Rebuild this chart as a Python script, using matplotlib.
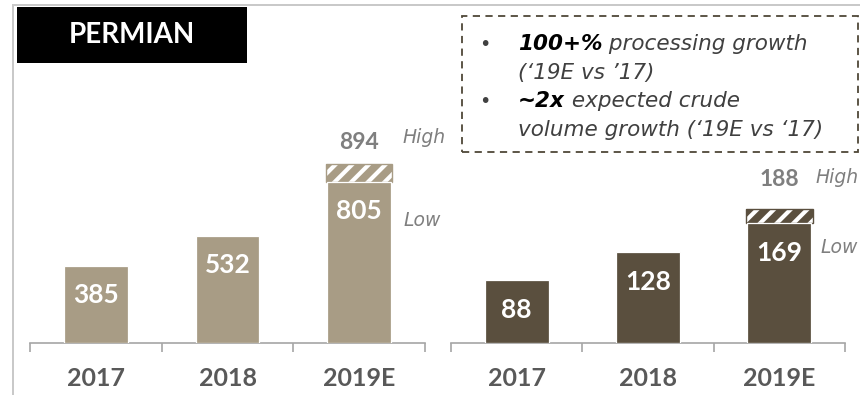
import matplotlib
matplotlib.use("Agg")
import matplotlib.pyplot as plt
from matplotlib.patches import Rectangle
from matplotlib.lines import Line2D

# ---- data -------------------------------------------------------------
years = ["2017", "2018", "2019E"]
processing_low = [385, 532, 805]      # left panel, 2019E low case
processing_high = 894                 # left panel, 2019E high case
crude_low = [88, 128, 169]            # right panel, 2019E low case
crude_high = 188                      # right panel, 2019E high case
title = "PERMIAN"
note_lines = [
    [("100+%", "bold", "#000000"), (" processing growth", "normal", "#404040")],
    [("(\u201819E vs \u201917)", "normal", "#404040")],
    [("~2x", "bold", "#000000"), (" expected crude", "normal", "#404040")],
    [("volume growth (\u201819E vs \u201817)", "normal", "#404040")],
]
bullet_rows = [0, 2]

# ---- style ------------------------------------------------------------
W, H, DPI = 860, 395, 100
LIGHT = "#A89C85"
DARK = "#5A4F3E"
AXIS_GREY = "#A6A6A6"
LABEL_GREY = "#7F7F7F"
TICK_TEXT = "#595959"
NOTE_FONT = ["DejaVu Sans"]

plt.rcParams["font.family"] = ["Lato", "DejaVu Sans"]
plt.rcParams["hatch.color"] = "white"
plt.rcParams["hatch.linewidth"] = 3.0

fig = plt.figure(figsize=(W / DPI, H / DPI), dpi=DPI)
fig.patch.set_facecolor("white")


def px_rect(x0, y0, x1, y1):
    """Pixel box (top-left origin) -> figure-fraction [l, b, w, h]."""
    return [x0 / W, 1 - y1 / H, (x1 - x0) / W, (y1 - y0) / H]


def fx(x):
    return x / W


def fy(y):
    return 1 - y / H


BAR_W = 0.486


def draw_panel(ax, low, high, color, ymax, in_off, hi_off, hi_word, lo_word):
    n = len(years)
    x = list(range(n))
    ax.set_xlim(-0.5, n - 0.5)
    ax.set_ylim(0, ymax)

    # hatched range between low and high case on the last bar
    ax.bar(n - 1, high - low[-1], bottom=low[-1], width=BAR_W + 0.02,
           color=color, hatch="//", linewidth=0, zorder=2)
    ax.bar(n - 1, high - low[-1], bottom=low[-1], width=BAR_W + 0.02,
           fill=False, edgecolor=color, linewidth=1.0, zorder=3)
    # solid bars
    ax.bar(x, low, width=BAR_W, color=color, edgecolor="white",
           linewidth=0.9, zorder=4)

    for i, v in zip(x, low):
        ax.annotate(str(v), (i, v), xytext=(0, -in_off),
                    textcoords="offset pixels", ha="center", va="center",
                    color="white", fontsize=19, fontweight="bold", zorder=5)

    ax.annotate(str(high), (n - 1, high), xytext=(0, hi_off),
                textcoords="offset pixels", ha="center", va="center",
                color=LABEL_GREY, fontsize=16.5, fontweight="bold")
    ax.annotate("High", (n - 1, high), xytext=hi_word,
                textcoords="offset pixels", ha="left", va="center",
                color=LABEL_GREY, fontsize=13.5, fontstyle="italic",
                family=NOTE_FONT)
    ax.annotate("Low", (n - 1, low[-1]), xytext=lo_word,
                textcoords="offset pixels", ha="left", va="center",
                color=LABEL_GREY, fontsize=13.5, fontstyle="italic",
                family=NOTE_FONT)

    for side in ("top", "left", "right"):
        ax.spines[side].set_visible(False)
    ax.spines["bottom"].set_color(AXIS_GREY)
    ax.spines["bottom"].set_linewidth(1.2)
    ax.patch.set_alpha(0)
    ax.set_yticks([])
    ax.set_xticks(x)
    ax.set_xticklabels(years)
    ax.set_xticks([i - 0.5 for i in range(n + 1)], minor=True)
    ax.tick_params(axis="x", which="major", length=0, pad=17,
                   labelsize=18, labelcolor=TICK_TEXT)
    for lbl in ax.get_xticklabels():
        lbl.set_fontweight("bold")
    ax.tick_params(axis="x", which="minor", length=6.5, width=1.2,
                   color=AXIS_GREY, direction="out")


# left panel: processing volumes
ax1 = fig.add_axes(px_rect(30, 5, 425, 343))
draw_panel(ax1, processing_low, processing_high, LIGHT, 338 / 0.2005,
           in_off=29, hi_off=21, hi_word=(43, 26), lo_word=(44, -39))

# right panel: crude volumes
ax2 = fig.add_axes(px_rect(451, 5, 845, 343))
draw_panel(ax2, crude_low, crude_high, DARK, 338 / 0.713,
           in_off=30, hi_off=29, hi_word=(36, 31), lo_word=(41, -25))

# frame lines of the slide panel
fig.add_artist(Line2D([fx(13), fx(860)], [fy(5), fy(5)],
                      color="#C8C8C8", linewidth=1.4))
fig.add_artist(Line2D([fx(13), fx(13)], [fy(5), fy(395)],
                      color="#C8C8C8", linewidth=1.4))

# title tab
l, b, w, h = px_rect(17, 7, 247, 63)
fig.add_artist(Rectangle((l, b), w, h, transform=fig.transFigure,
                         facecolor="black", edgecolor="none"))
fig.text(fx(132), fy(35), title, ha="center", va="center", color="white",
         fontsize=20, fontweight="bold")

# dashed call-out box
l, b, w, h = px_rect(462, 16, 858, 152)
fig.add_artist(Rectangle((l, b), w, h, transform=fig.transFigure,
                         facecolor="none", edgecolor="#4F4838",
                         linewidth=1.3, linestyle=(0, (4, 3))))

renderer = fig.canvas.get_renderer()
baselines = [50, 78.5, 107, 135.5]
for row, (parts, base) in enumerate(zip(note_lines, baselines)):
    if row in bullet_rows:
        fig.text(fx(485), fy(base), "\u2022", ha="center", va="baseline",
                 color="#404040", fontsize=14, family=NOTE_FONT)
    xpos = fx(518)
    for txt, weight, color in parts:
        t = fig.text(xpos, fy(base), txt, ha="left", va="baseline",
                     color=color, fontsize=15.5, fontweight=weight,
                     fontstyle="italic", family=NOTE_FONT)
        bb = t.get_window_extent(renderer)
        xpos = bb.x1 / W

fig.savefig("out.png", dpi=DPI, facecolor="white")
